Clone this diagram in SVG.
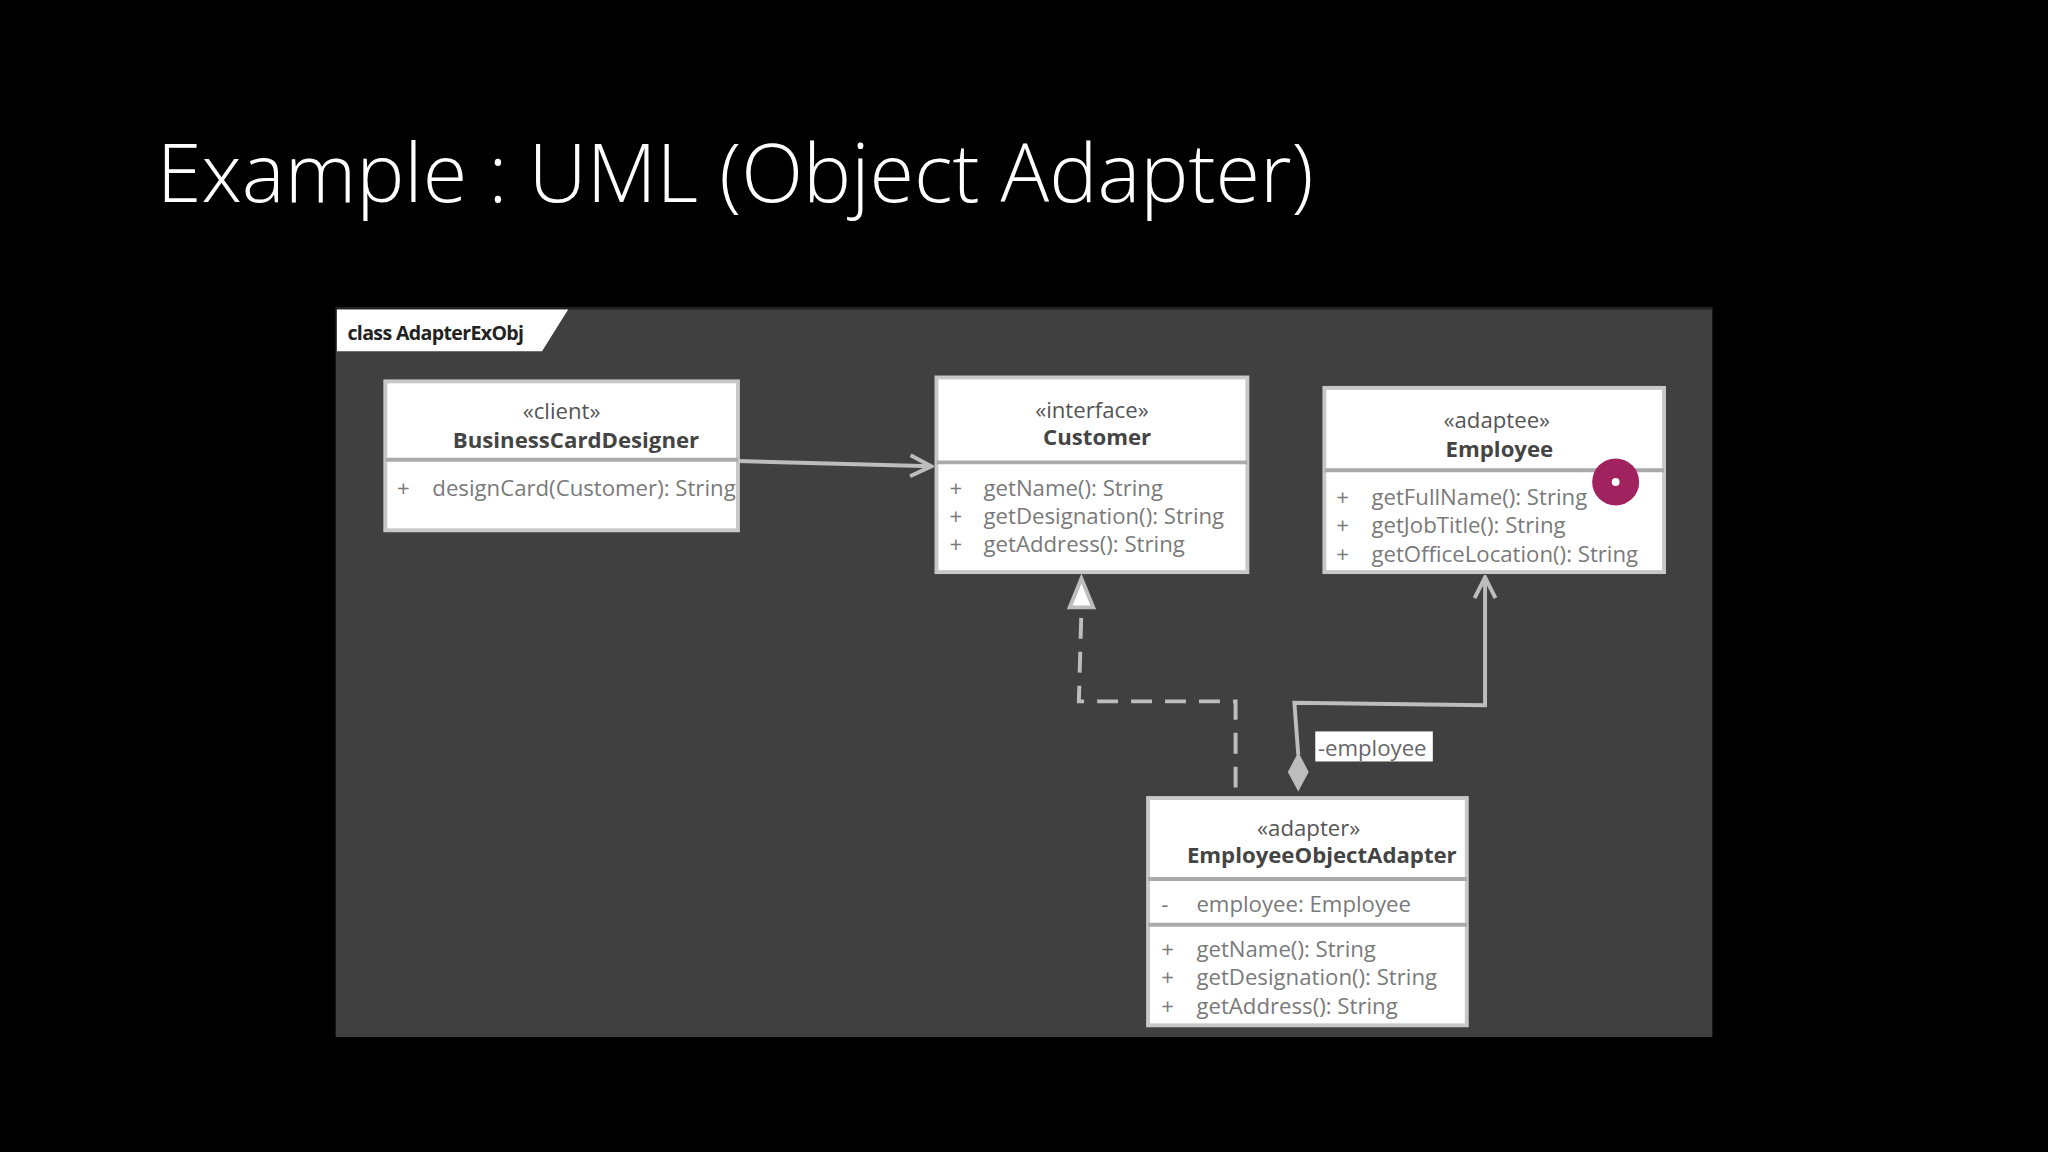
<svg xmlns="http://www.w3.org/2000/svg" width="2048" height="1152" viewBox="0 0 2048 1152">
<style>
.box{fill:#fff;stroke:#c8c8c8;stroke-width:3}
.div{stroke:#aaa;stroke-width:3}
.st{font-family:"Open Sans",sans-serif;font-size:17px;fill:#555;text-anchor:middle}
.nm{font-family:"Open Sans",sans-serif;font-size:17px;font-weight:bold;fill:#444;text-anchor:middle}
.m{font-family:"Open Sans",sans-serif;font-size:17px;fill:#7a7a7a}
.ln{fill:none;stroke:#bdbdbd;stroke-width:3}
</style>
<defs>
<marker id="open" viewBox="0 0 20 20" refX="18" refY="10" markerWidth="20" markerHeight="20" markerUnits="userSpaceOnUse" orient="auto"><path d="M2,2 L18,10 L2,18" fill="none" stroke="#bdbdbd" stroke-width="3"/></marker>
</defs>
<rect width="2048" height="1152" fill="#000"/>
<g transform="scale(1.30612)">
<text x="120" y="155" font-family="Open Sans,sans-serif" font-weight="300" font-size="62" fill="#fff">Example : UML (Object Adapter)</text>
<rect x="257" y="235" width="1054" height="559" fill="#404040"/>
<line x1="257" y1="236" x2="1311" y2="236" stroke="#222" stroke-width="2"/>
<polygon points="258,237 435,237 415,269 258,269" fill="#fff"/>
<text x="266" y="260" font-family="Open Sans,sans-serif" font-weight="bold" font-size="15" fill="#222" letter-spacing="-0.5">class AdapterExObj</text>
<g id="connectors">
<path class="ln" d="M565,353 L713,357" marker-end="url(#open)"/>
<path class="ln" d="M946,603 L946,537 L826,537 L828,466" stroke-dasharray="16,10"/>
<polygon points="828,443 819,465 837,465" fill="#fff" stroke="#bdbdbd" stroke-width="3"/>
<path class="ln" d="M994,578 L991,538 L1137,540 L1137,442" marker-end="url(#open)"/>
<polygon points="994,576 1002,591 994,606 986,591" fill="#bdbdbd"/>
<rect x="1007" y="560" width="90" height="23" fill="#fff"/>
<text x="1009" y="579" font-family="Open Sans,sans-serif" font-size="17" fill="#666">-employee</text>
</g>
<g id="BusinessCardDesigner">
<rect class="box" x="295" y="292" width="270" height="114"/>
<line class="div" x1="295" y1="352" x2="565" y2="352"/>
<text class="st" x="430" y="321">«client»</text>
<text class="nm" x="441" y="343">BusinessCardDesigner</text>
<text class="m" x="304" y="380">+</text><text class="m" x="331" y="380">designCard(Customer): String</text>
</g>
<g id="Customer">
<rect class="box" x="717" y="289" width="238" height="149"/>
<line class="div" x1="717" y1="354" x2="955" y2="354"/>
<text class="st" x="836" y="320">«interface»</text>
<text class="nm" x="840" y="341">Customer</text>
<text class="m" x="727" y="380">+</text><text class="m" x="753" y="380">getName(): String</text>
<text class="m" x="727" y="401">+</text><text class="m" x="753" y="401">getDesignation(): String</text>
<text class="m" x="727" y="423">+</text><text class="m" x="753" y="423">getAddress(): String</text>
</g>
<g id="Employee">
<rect class="box" x="1014" y="297" width="260" height="141"/>
<line class="div" x1="1014" y1="360" x2="1274" y2="360"/>
<text class="st" x="1146" y="328">«adaptee»</text>
<text class="nm" x="1148" y="350">Employee</text>
<text class="m" x="1023" y="387">+</text><text class="m" x="1050" y="387">getFullName(): String</text>
<text class="m" x="1023" y="408">+</text><text class="m" x="1050" y="408">getJobTitle(): String</text>
<text class="m" x="1023" y="430">+</text><text class="m" x="1050" y="430">getOfficeLocation(): String</text>
<circle cx="1237" cy="369" r="18" fill="#a0235f"/>
<circle cx="1237" cy="369" r="3" fill="#fff"/>
</g>
<g id="EmployeeObjectAdapter">
<rect class="box" x="879" y="611" width="244" height="174"/>
<line class="div" x1="879" y1="673" x2="1123" y2="673"/>
<line class="div" x1="879" y1="708" x2="1123" y2="708"/>
<text class="st" x="1002" y="640">«adapter»</text>
<text class="nm" x="1012" y="661">EmployeeObjectAdapter</text>
<text class="m" x="889" y="698">-</text><text class="m" x="916" y="698">employee: Employee</text>
<text class="m" x="889" y="733">+</text><text class="m" x="916" y="733">getName(): String</text>
<text class="m" x="889" y="754">+</text><text class="m" x="916" y="754">getDesignation(): String</text>
<text class="m" x="889" y="776">+</text><text class="m" x="916" y="776">getAddress(): String</text>
</g>
</g>
</svg>
